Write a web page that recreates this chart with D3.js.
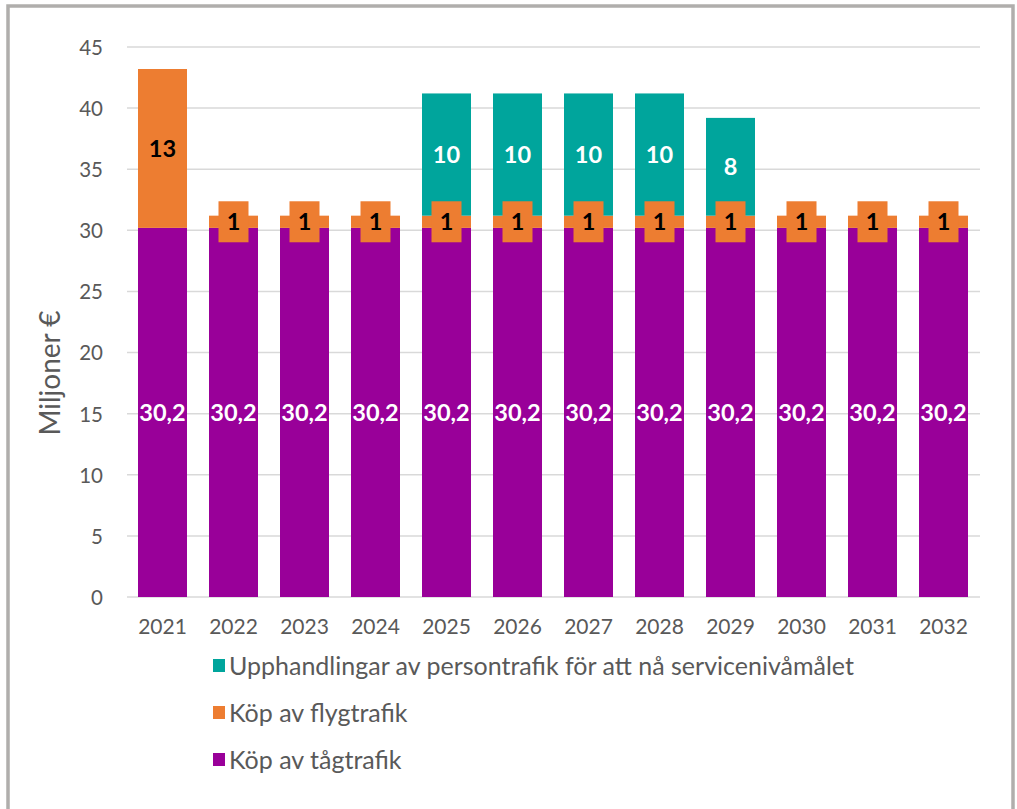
<!DOCTYPE html>
<html>
<head>
<meta charset="utf-8">
<script src="https://cdn.jsdelivr.net/npm/d3@7/dist/d3.min.js"></script>
<style>
  html, body { margin: 0; padding: 0; background: #fff; }
  svg { display: block; }
  text { font-family: Lato, "Open Sans", sans-serif; }
</style>
</head>
<body>
<svg id="chart" width="1017" height="809"></svg>
<script>
// Annual budget by purchase type (million €)
const years = ["2021","2022","2023","2024","2025","2026","2027","2028","2029","2030","2031","2032"];
const trainPurchase = [30.2,30.2,30.2,30.2,30.2,30.2,30.2,30.2,30.2,30.2,30.2,30.2];
const flightPurchase = [13,1,1,1,1,1,1,1,1,1,1,1];
const serviceProcurement = [0,0,0,0,10,10,10,10,8,0,0,0];
const yTicks = [0,5,10,15,20,25,30,35,40,45];

const seriesNames = {
  train: "Köp av tågtrafik",
  flight: "Köp av flygtrafik",
  service: "Upphandlingar av persontrafik för att nå servicenivåmålet"
};
const colors = { train: "#990099", flight: "#ED7D31", service: "#00A59C" };

const rows = years.map((y, i) => ({
  year: y, train: trainPurchase[i], flight: flightPurchase[i], service: serviceProcurement[i]
}));
const keys = ["train", "flight", "service"];
const stacked = d3.stack().keys(keys)(rows);

const svg = d3.select("#chart");

// outer frame
svg.append("rect").attr("x", 8).attr("y", 6).attr("width", 1005).attr("height", 820)
  .attr("fill", "none").attr("stroke", "#B0AEAC").attr("stroke-width", 3.5);

const x = d3.scaleBand().domain(years).range([127, 979]).paddingInner(0.31).paddingOuter(0.155);
const y = d3.scaleLinear().domain([0, 45]).range([597, 47]);

// gridlines
svg.append("g").selectAll("line").data(yTicks).join("line")
  .attr("x1", 127).attr("x2", 980)
  .attr("y1", d => y(d)).attr("y2", d => y(d))
  .attr("stroke", "#D9D9D9").attr("stroke-width", 1.5);

// y axis labels
const yAxis = d3.axisLeft(y).tickValues(yTicks).tickSize(0).tickPadding(0);
const gy = svg.append("g").attr("transform", "translate(103,0)").call(yAxis);
gy.select(".domain").remove();
gy.selectAll("text").attr("font-size", 20.5).attr("fill", "#595959")
  .style("font-family", "Lato, sans-serif").attr("dy", "0.36em");

// x axis labels
const xAxis = d3.axisBottom(x).tickSize(0).tickPadding(0);
const gx = svg.append("g").attr("transform", "translate(0,619)").call(xAxis);
gx.select(".domain").remove();
gx.selectAll("text").attr("font-size", 21).attr("fill", "#595959")
  .style("font-family", "Lato, sans-serif").attr("dy", "0.7em");

// y title
svg.append("text")
  .attr("transform", "translate(60,373) rotate(-90)")
  .attr("text-anchor", "middle").attr("font-size", 28).attr("fill", "#595959")
  .text("Miljoner €");

// bars
const layer = svg.append("g").selectAll("g").data(stacked).join("g")
  .attr("fill", d => colors[d.key]);
layer.selectAll("rect").data(d => d.filter(p => p[1] - p[0] > 0)).join("rect")
  .attr("x", d => x(d.data.year))
  .attr("width", x.bandwidth())
  .attr("y", d => y(d[1]))
  .attr("height", d => y(d[0]) - y(d[1]));

// data labels
const fmt = v => String(v).replace(".", ",");
stacked.forEach(s => {
  s.forEach(p => {
    const v = p[1] - p[0];
    if (v <= 0) return;
    const cx = x(p.data.year) + x.bandwidth() / 2;
    const cy = (y(p[0]) + y(p[1])) / 2;
    const g = svg.append("g");
    const boxed = s.key === "flight" && v < 3;
    if (boxed) {
      g.append("rect").attr("x", cx - 15).attr("y", cy - 20.5)
        .attr("width", 30).attr("height", 41).attr("fill", colors.flight);
    }
    g.append("text").attr("x", cx).attr("y", cy).attr("dy", "0.36em")
      .attr("text-anchor", "middle").attr("font-size", 23.5).attr("font-weight", 700)
      .attr("fill", s.key === "flight" ? "#000" : "#fff")
      .text(fmt(Math.round(v * 10) / 10));
  });
});

// legend
const legendKeys = ["service", "flight", "train"];
const lg = svg.append("g").selectAll("g").data(legendKeys).join("g")
  .attr("transform", (d, i) => `translate(213,${666 + i * 47})`);
lg.append("rect").attr("x", 0).attr("y", -7).attr("width", 12).attr("height", 13)
  .attr("fill", d => colors[d]);
lg.append("text").attr("x", 16).attr("y", 0).attr("dy", "0.35em")
  .attr("font-size", 25).attr("fill", "#595959").text(d => seriesNames[d]);
</script>
</body>
</html>
